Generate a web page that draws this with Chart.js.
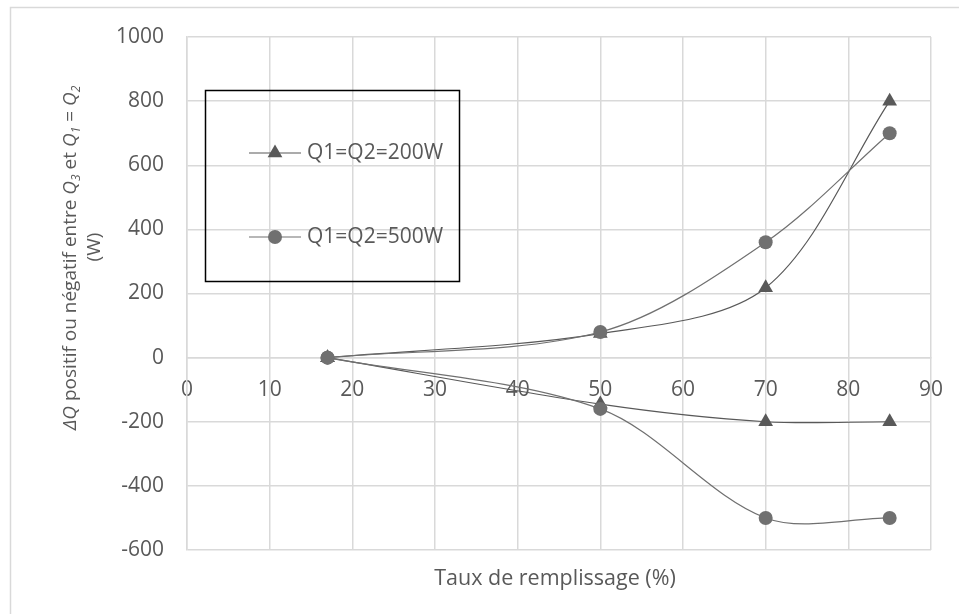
<!DOCTYPE html>
<html>
<head>
<meta charset="utf-8">
<script src="https://cdn.jsdelivr.net/npm/chart.js@4"></script>
<style>
html, body { margin: 0; padding: 0; background: #fff; }
#wrap { width: 959px; height: 614px; position: relative; }
</style>
</head>
<body>
<div id="wrap"><canvas id="chart"></canvas></div>
<script>
// taux de remplissage (%)
var x_values = [17, 50, 70, 85];
// two branches per series (positive / negative)
var q200_upper = [0, 75, 218, 800];
var q200_lower = [0, -145, -200, -200];
var q500_upper = [0, 80, 360, 700];
var q500_lower = [0, -160, -500, -500];
var series_labels = ['Q1=Q2=200W', 'Q1=Q2=500W'];
var x_title = 'Taux de remplissage (%)';

var text_color = '#595959';
var grid_color = '#d9d9d9';
var font_family = '"Open Sans", sans-serif';

function to_points(values) {
    return x_values.map(function (x, i) { return { x: x, y: values[i] }; });
}

var tri_style = {
    pointStyle: 'triangle', pointRadius: 8.5, pointHoverRadius: 8.5,
    backgroundColor: '#595959', borderColor: '#595959',
    pointBorderWidth: 0, borderWidth: 1.2, tension: 0.32, order: 1
};
var dot_style = {
    pointStyle: 'circle', pointRadius: 7, pointHoverRadius: 7,
    backgroundColor: '#707070', borderColor: '#707070',
    pointBorderWidth: 0, borderWidth: 1.2, tension: 0.32, order: 0
};

var datasets = [
    Object.assign({ label: series_labels[0], data: to_points(q200_upper) }, tri_style),
    Object.assign({ label: series_labels[0], data: to_points(q200_lower) }, tri_style),
    Object.assign({ label: series_labels[1], data: to_points(q500_upper) }, dot_style),
    Object.assign({ label: series_labels[1], data: to_points(q500_lower) }, dot_style)
];

// y title with italic Q and subscripts
var y_title_parts = [
    { t: 'ΔQ', i: true }, { t: ' positif ou négatif entre ' },
    { t: 'Q', i: true }, { t: '3', i: true, sub: true }, { t: ' et ' },
    { t: 'Q', i: true }, { t: '1', i: true, sub: true }, { t: ' = ' },
    { t: 'Q', i: true }, { t: '2', i: true, sub: true }
];

function part_font(p) {
    return (p.i ? 'italic ' : '') + (p.sub ? '12px ' : '19px ') + font_family;
}

var extras = {
    id: 'extras',
    afterDraw: function (chart) {
        var ctx = chart.ctx;
        ctx.save();

        // outer frame
        ctx.strokeStyle = grid_color;
        ctx.lineWidth = 1.5;
        ctx.beginPath();
        ctx.moveTo(10.5, 614);
        ctx.lineTo(10.5, 7.5);
        ctx.lineTo(959, 7.5);
        ctx.stroke();

        ctx.fillStyle = text_color;
        ctx.textBaseline = 'middle';

        // x title
        ctx.font = '21.5px ' + font_family;
        ctx.textAlign = 'center';
        ctx.fillText(x_title, 555, 579);

        // y title
        ctx.textAlign = 'left';
        var total = 0;
        y_title_parts.forEach(function (p) {
            ctx.font = part_font(p);
            total += ctx.measureText(p.t).width;
        });
        ctx.save();
        ctx.translate(71, 258);
        ctx.rotate(-Math.PI / 2);
        var pos = -total / 2;
        y_title_parts.forEach(function (p) {
            ctx.font = part_font(p);
            ctx.fillText(p.t, pos, p.sub ? 6 : 0);
            pos += ctx.measureText(p.t).width;
        });
        ctx.restore();
        ctx.save();
        ctx.translate(95, 247);
        ctx.rotate(-Math.PI / 2);
        ctx.font = '19px ' + font_family;
        ctx.textAlign = 'center';
        ctx.fillText('(W)', 0, 0);
        ctx.restore();

        // legend box
        ctx.strokeStyle = '#000';
        ctx.lineWidth = 1.5;
        ctx.strokeRect(205.5, 90.5, 254, 191);
        var rows = [153, 237];
        [0, 2].forEach(function (di, k) {
            var ds = chart.data.datasets[di];
            var y = rows[k];
            ctx.strokeStyle = ds.borderColor;
            ctx.lineWidth = 1.2;
            ctx.beginPath();
            ctx.moveTo(249, y);
            ctx.lineTo(301, y);
            ctx.stroke();
            ctx.fillStyle = ds.backgroundColor;
            Chart.helpers.drawPoint(ctx, { pointStyle: ds.pointStyle, radius: ds.pointRadius, borderWidth: 0 }, 275, y);
            ctx.fillStyle = text_color;
            ctx.font = '21px ' + font_family;
            ctx.textAlign = 'left';
            ctx.fillText(ds.label, 307, y);
        });

        ctx.restore();
    }
};

new Chart(document.getElementById('chart'), {
    type: 'line',
    data: { datasets: datasets },
    options: {
        responsive: true,
        maintainAspectRatio: false,
        animation: false,
        layout: { padding: { left: 0, right: 28, top: 37, bottom: 64 } },
        plugins: {
            legend: { display: false },
            tooltip: { enabled: false }
        },
        scales: {
            x: {
                type: 'linear',
                min: 0,
                max: 90,
                position: { y: 0 },
                afterFit: function (scale) { scale.paddingLeft = 0; scale.paddingRight = 0; },
                ticks: {
                    stepSize: 10,
                    color: text_color,
                    font: { family: font_family, size: 21 },
                    padding: 20,
                    maxRotation: 0
                },
                grid: { color: grid_color, lineWidth: 1.5, drawTicks: false },
                border: { color: grid_color, width: 1.5 }
            },
            y: {
                min: -600,
                max: 1000,
                afterFit: function (scale) { scale.width = 187; },
                ticks: {
                    stepSize: 200,
                    color: text_color,
                    font: { family: font_family, size: 21 },
                    padding: 23,
                    callback: function (v) { return String(v); }
                },
                grid: { color: grid_color, lineWidth: 1.5, drawTicks: false },
                border: { color: grid_color, width: 1.5 }
            }
        }
    },
    plugins: [extras]
});
</script>
</body>
</html>
